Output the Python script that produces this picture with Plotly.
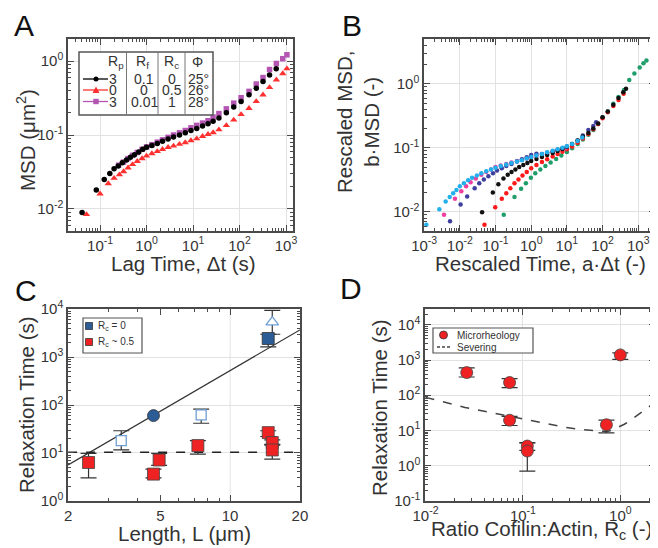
import plotly.graph_objects as go

W, H = 658, 548
OFF = 8  # the page body keeps its default 8px margin
FONT = "Arial, Liberation Sans, sans-serif"
TXT = "#333333"
AXC = "#4a4a4a"

# ---------------- panel A : MSD vs lag time ----------------
a_black_t = [0.041, 0.083, 0.123, 0.162, 0.20, 0.246, 0.30, 0.37, 0.45, 0.55, 0.68, 0.83,
             1.0, 1.3, 1.7, 2.2, 2.9, 3.8, 5.1, 6.8, 9, 12, 16, 21, 27, 36, 52, 75, 108,
             160, 229, 320, 442, 615]
a_black_msd = [0.0089, 0.018, 0.025, 0.030, 0.035, 0.038, 0.042, 0.046, 0.050, 0.054, 0.059,
               0.064, 0.068, 0.072, 0.077, 0.082, 0.088, 0.094, 0.100, 0.107, 0.115, 0.122,
               0.132, 0.142, 0.153, 0.170, 0.20, 0.24, 0.285, 0.35, 0.43, 0.53, 0.65, 0.79]
a_red_t = [0.051, 0.10, 0.15, 0.20, 0.26, 0.32, 0.40, 0.5, 0.63, 0.8, 1.0, 1.3, 1.7, 2.2, 2.9,
           3.8, 5.1, 6.8, 9, 12, 16, 21, 27, 36, 52, 75, 108, 160, 229, 320, 442, 620, 850, 1045]
a_red_msd = [0.0084, 0.016, 0.022, 0.026, 0.029, 0.032, 0.036, 0.040, 0.044, 0.048, 0.052,
             0.056, 0.060, 0.064, 0.068, 0.071, 0.075, 0.079, 0.084, 0.089, 0.096, 0.102,
             0.108, 0.118, 0.135, 0.16, 0.19, 0.23, 0.285, 0.35, 0.44, 0.56, 0.68, 0.79]
a_purple_t = [0.25, 0.32, 0.40, 0.5, 0.63, 0.8, 1.0, 1.3, 1.7, 2.2, 2.9, 3.8, 5.1, 6.8, 9, 12,
              16, 21, 27, 36, 52, 75, 108, 160, 229, 320, 442, 620, 850, 1045]
a_purple_msd = [0.039, 0.043, 0.048, 0.053, 0.058, 0.064, 0.069, 0.074, 0.080, 0.086, 0.093,
                0.100, 0.107, 0.115, 0.125, 0.135, 0.145, 0.156, 0.175, 0.195, 0.226, 0.27,
                0.32, 0.39, 0.49, 0.60, 0.77, 0.93, 1.08, 1.22]
a_legend_rows = [["3", "0.1", "0", "25°"], ["0", "0", "0.5", "26°"], ["3", "0.01", "1", "28°"]]

# ---------------- panel B : rescaled MSD ----------------
b_sky_x = [0.00115, 0.00266, 0.004, 0.0052, 0.0065, 0.008, 0.01, 0.013, 0.017, 0.022, 0.03,
           0.04, 0.055, 0.075, 0.1, 0.14, 0.2, 0.28, 0.4, 0.55, 0.75, 1.0, 1.4, 2, 2.8, 4,
           5.5, 7.5, 10, 14, 20, 27]
b_sky_y = [0.0063, 0.011, 0.0145, 0.017, 0.0195, 0.022, 0.025, 0.028, 0.031, 0.034, 0.037,
           0.040, 0.043, 0.046, 0.049, 0.052, 0.055, 0.058, 0.061, 0.064, 0.068, 0.072,
           0.076, 0.080, 0.085, 0.090, 0.095, 0.100, 0.106, 0.115, 0.128, 0.145]
b_pink_x = [0.0036, 0.0073, 0.011, 0.015, 0.02, 0.028, 0.04, 0.055, 0.075, 0.1, 0.14, 0.2,
            0.28, 0.4, 0.55, 0.75, 1.0, 1.4, 2, 2.8, 4, 5.5, 7.5, 9]
b_pink_y = [0.009, 0.016, 0.021, 0.025, 0.029, 0.033, 0.038, 0.042, 0.046, 0.050, 0.053,
            0.056, 0.059, 0.062, 0.065, 0.068, 0.071, 0.075, 0.079, 0.083, 0.088, 0.092,
            0.096, 0.098]
b_navy_x = [0.0053, 0.0105, 0.016, 0.026, 0.035, 0.047, 0.063, 0.085, 0.11, 0.15, 0.2, 0.28,
            0.4, 0.55, 0.75, 1.0, 1.4, 2, 2.8, 4, 5.5, 7.5, 10, 14, 20, 28, 40, 55, 66]
b_navy_y = [0.0071, 0.013, 0.0173, 0.0234, 0.028, 0.032, 0.036, 0.040, 0.044, 0.048, 0.052,
            0.056, 0.061, 0.066, 0.071, 0.077, 0.081, 0.080, 0.084, 0.088, 0.093, 0.098,
            0.105, 0.115, 0.13, 0.155, 0.19, 0.22, 0.25]
b_black_x = [0.042, 0.084, 0.12, 0.167, 0.22, 0.28, 0.36, 0.46, 0.6, 0.78, 1.0, 1.4, 2, 2.8,
             4, 5.5, 7.5, 10, 14, 20, 28, 40, 55, 75, 100, 140, 200, 280, 380, 455]
b_black_y = [0.0098, 0.020, 0.027, 0.033, 0.038, 0.042, 0.046, 0.050, 0.054, 0.058, 0.062,
             0.067, 0.072, 0.077, 0.083, 0.089, 0.096, 0.104, 0.115, 0.13, 0.15, 0.17, 0.20,
             0.24, 0.30, 0.37, 0.47, 0.60, 0.74, 0.835]
b_red_x = [0.049, 0.098, 0.15, 0.2, 0.26, 0.34, 0.44, 0.57, 0.75, 1.0, 1.4, 2, 2.8, 4, 5.5,
           7.5, 10, 14, 20, 28, 40, 55, 75, 100, 140, 200, 280, 390]
b_red_y = [0.0063, 0.0118, 0.016, 0.0195, 0.0234, 0.028, 0.032, 0.037, 0.042, 0.048, 0.054,
           0.060, 0.066, 0.073, 0.080, 0.087, 0.095, 0.105, 0.12, 0.14, 0.165, 0.195, 0.235,
           0.29, 0.36, 0.45, 0.56, 0.70]
b_green_x = [0.17, 0.34, 0.52, 0.71, 0.98, 1.3, 1.8, 2.5, 3.5, 5, 7, 10, 14, 20, 28, 40, 55,
             75, 100, 140, 200, 280, 400, 560, 780, 1100, 1400, 1700]
b_green_y = [0.009, 0.017, 0.023, 0.028, 0.034, 0.040, 0.046, 0.052, 0.059, 0.067, 0.076,
             0.086, 0.098, 0.115, 0.135, 0.16, 0.19, 0.235, 0.30, 0.37, 0.49, 0.62, 0.80,
             1.15, 1.45, 1.8, 2.1, 2.31]

# ---------------- panel C : relaxation time vs length ----------------
c_blue_sq_L, c_blue_sq_tau = [14.6], [2450]
c_blue_sq_up, c_blue_sq_dn = [550], [820]
c_blue_circ_L, c_blue_circ_tau = [4.67], [60]
c_blue_open_L, c_blue_open_tau = [3.39, 7.5], [18, 62]
c_blue_open_up, c_blue_open_dn = [11, 20], [6.4, 20.4]
c_blue_tri_L, c_blue_tri_tau = [15.2], [5400]
c_blue_tri_up, c_blue_tri_dn = [4100], [2400]
c_red_L = [2.45, 4.67, 4.94, 7.26, 14.6, 15.2, 15.2]
c_red_tau = [6.3, 3.6, 7.1, 14.2, 26.5, 16.4, 11.5]
c_red_up = [3.5, 1.0, 2.7, 3.8, 2.5, 2.3, 3.5]
c_red_dn = [3.3, 0.6, 1.6, 4.8, 4.5, 1.9, 4.1]
c_fit_L, c_fit_tau = [2, 20], [5.6, 3700]
c_sev_L, c_sev_tau = [2, 20], [10.3, 10.3]

# ---------------- panel D : relaxation time vs cofilin ratio ----------------
d_R = [0.0265, 0.073, 0.073, 0.111, 0.111, 0.72, 1.0]
d_tau = [440, 230, 19.5, 3.6, 2.6, 14.5, 1400]
d_up = [160, 65, 5.5, 0.9, 1.8, 5, 200]
d_dn = [110, 65, 5.7, 0.9, 1.9, 6, 350]
d_sev_R = [0.01, 0.0255, 0.05, 0.1, 0.18, 0.265, 0.4, 0.58, 0.73, 0.82, 0.93, 1.1, 1.26,
           1.5, 1.73, 2.0, 2.27]
d_sev_tau = [87, 45, 31, 21, 15.5, 12.4, 10.5, 9.5, 9.3, 10.2, 11.9, 15, 19, 27, 36, 48, 63]


def px(x):
    return (x - OFF) / W


def py(y):
    return 1 - (y - OFF) / H


def sup_labels(exps):
    return [f"10<sup>{e}</sup>" for e in exps]


def minor_vals(lo, hi):
    vals = []
    for e in range(lo, hi + 1):
        for m in range(2, 10):
            vals.append(m * 10.0 ** e)
    return vals


def log_axis(dom, anchor, rng, tickvals, ticktext, minors, grid=True):
    return dict(
        type="log", domain=dom, anchor=anchor, range=rng, automargin=False,
        tickmode="array", tickvals=tickvals, ticktext=ticktext,
        ticks="inside", ticklen=6, tickwidth=1.2, tickcolor=AXC,
        showline=True, linecolor=AXC, linewidth=1.5, mirror="allticks",
        showgrid=grid, gridcolor="#e2e2e2", gridwidth=1, zeroline=False,
        minor=dict(tickmode="array", tickvals=minors, ticks="inside", ticklen=3,
                   tickwidth=1, tickcolor=AXC, showgrid=False),
        tickfont=dict(size=15, color=TXT, family=FONT),
    )


def err(up, dn):
    return dict(type="data", symmetric=False, array=up, arrayminus=dn,
                color="#333333", thickness=1.2, width=8)


fig = go.Figure()

# panel A
fig.add_trace(go.Scatter(x=a_purple_t, y=a_purple_msd, mode="markers",
                         marker=dict(symbol="square", size=5.5, color="#b455b4"),
                         xaxis="x", yaxis="y", showlegend=False))
fig.add_trace(go.Scatter(x=a_red_t, y=a_red_msd, mode="markers",
                         marker=dict(symbol="triangle-up", size=6.5, color="#ff3030"),
                         xaxis="x", yaxis="y", showlegend=False))
fig.add_trace(go.Scatter(x=a_black_t, y=a_black_msd, mode="markers",
                         marker=dict(symbol="circle", size=5.5, color="#000000"),
                         xaxis="x", yaxis="y", showlegend=False))

# panel B
for bx, by, col in [(b_green_x, b_green_y, "#1f9e6a"), (b_red_x, b_red_y, "#ff1a1a"),
                    (b_pink_x, b_pink_y, "#ee3fa0"), (b_navy_x, b_navy_y, "#3f3f9f"),
                    (b_black_x, b_black_y, "#111111"), (b_sky_x, b_sky_y, "#22b0ec")]:
    fig.add_trace(go.Scatter(x=bx, y=by, mode="markers",
                             marker=dict(size=4.5, color=col),
                             xaxis="x2", yaxis="y2", showlegend=False))

# panel C
fig.add_trace(go.Scatter(x=c_fit_L, y=c_fit_tau, mode="lines",
                         line=dict(color="#333333", width=1.2),
                         xaxis="x3", yaxis="y3", showlegend=False))
fig.add_trace(go.Scatter(x=c_sev_L, y=c_sev_tau, mode="lines",
                         line=dict(color="#222222", width=1.5, dash="dash"),
                         xaxis="x3", yaxis="y3", showlegend=False))
fig.add_trace(go.Scatter(x=c_blue_tri_L, y=c_blue_tri_tau, mode="markers",
                         error_y=err(c_blue_tri_up, c_blue_tri_dn),
                         marker=dict(symbol="triangle-up", size=11, color="white",
                                     line=dict(color="#6f9fd2", width=1.3)),
                         xaxis="x3", yaxis="y3", showlegend=False))
fig.add_trace(go.Scatter(x=c_blue_open_L, y=c_blue_open_tau, mode="markers",
                         error_y=err(c_blue_open_up, c_blue_open_dn),
                         marker=dict(symbol="square", size=10, color="white",
                                     line=dict(color="#6f9fd2", width=1.3)),
                         xaxis="x3", yaxis="y3", showlegend=False))
fig.add_trace(go.Scatter(x=c_blue_sq_L, y=c_blue_sq_tau, mode="markers",
                         error_y=err(c_blue_sq_up, c_blue_sq_dn),
                         marker=dict(symbol="square", size=12, color="#2b5c96",
                                     line=dict(color="#333333", width=0.8)),
                         xaxis="x3", yaxis="y3", showlegend=False))
fig.add_trace(go.Scatter(x=c_blue_circ_L, y=c_blue_circ_tau, mode="markers",
                         marker=dict(symbol="circle", size=12, color="#2b5c96",
                                     line=dict(color="#333333", width=0.8)),
                         xaxis="x3", yaxis="y3", showlegend=False))
fig.add_trace(go.Scatter(x=c_red_L, y=c_red_tau, mode="markers",
                         error_y=err(c_red_up, c_red_dn),
                         marker=dict(symbol="square", size=12, color="#ee2222",
                                     line=dict(color="#444444", width=0.8)),
                         xaxis="x3", yaxis="y3", showlegend=False))

# panel D
fig.add_trace(go.Scatter(x=d_sev_R, y=d_sev_tau, mode="lines",
                         line=dict(color="#444444", width=1.5, dash="dash"),
                         xaxis="x4", yaxis="y4", showlegend=False))
fig.add_trace(go.Scatter(x=d_R, y=d_tau, mode="markers", error_y=err(d_up, d_dn),
                         marker=dict(symbol="circle", size=12, color="#ee2222",
                                     line=dict(color="#444444", width=0.8)),
                         xaxis="x4", yaxis="y4", showlegend=False))

# axes
dom_a_x, dom_b_x = [px(68), px(293)], [px(424), px(655)]
dom_c_x, dom_d_x = [px(68), px(300)], [px(425), px(655)]
dom_top, dom_bot = [py(231), py(39)], [py(501), py(309)]

fig.update_layout(
    xaxis=log_axis(dom_a_x, "y", [-1.69, 3.15], [10.0 ** e for e in range(-1, 4)],
                   sup_labels(range(-1, 4)), minor_vals(-2, 3)),
    yaxis=log_axis(dom_top, "x", [-2.30, 0.30], [0.01, 0.1, 1], sup_labels([-2, -1, 0]),
                   minor_vals(-3, 0)),
    xaxis2=log_axis(dom_b_x, "y2", [-3.005, 3.47], [10.0 ** e for e in range(-3, 4)],
                    sup_labels(range(-3, 4)), minor_vals(-3, 3)),
    yaxis2=log_axis(dom_top, "x2", [-2.30, 0.70], [0.01, 0.1, 1], sup_labels([-2, -1, 0]),
                    minor_vals(-3, 0)),
    xaxis3=log_axis(dom_c_x, "y3", [0.3005, 1.3015], [2, 5, 10, 20], ["2", "5", "10", "20"],
                    [3, 4, 6, 7, 8, 9], grid=False),
    yaxis3=log_axis(dom_bot, "x3", [-0.005, 4.005], [10.0 ** e for e in range(0, 5)],
                    sup_labels(range(0, 5)), minor_vals(0, 3)),
    xaxis4=log_axis(dom_d_x, "y4", [-2.005, 0.356], [0.01, 0.1, 1], sup_labels([-2, -1, 0]),
                    minor_vals(-2, 0)),
    yaxis4=log_axis(dom_bot, "x4", [-1.005, 4.45], [10.0 ** e for e in range(-1, 5)],
                    sup_labels(range(-1, 5)), minor_vals(-1, 4)),
)

# gridline at L = 10 in panel C (only labelled decade inside the box)
c_lo, c_hi = 0.3005, 1.3015
grid_frac = (1 - c_lo) / (c_hi - c_lo)
shapes = [dict(type="line", xref="x3 domain", yref="y3 domain", x0=grid_frac, x1=grid_frac,
               y0=0, y1=1, line=dict(color="#e2e2e2", width=1), layer="below")]

annotations = []


def text(x, y, s, size, angle=0, xanchor="center", color=TXT):
    annotations.append(dict(x=px(x), y=py(y), xref="paper", yref="paper", text=s,
                            showarrow=False, textangle=angle, xanchor=xanchor,
                            yanchor="middle", font=dict(size=size, color=color, family=FONT)))


# panel letters
text(24, 25, "A", 30, color="#111111")
text(352, 25, "B", 30, color="#111111")
text(26, 290, "C", 30, color="#111111")
text(351, 288, "D", 30, color="#111111")

# axis titles
TS = 20.5
text(183, 263, "Lag Time, Δt (s)", TS)
text(26, 140, "MSD (μm<sup>2</sup>)", TS, angle=-90)
text(540, 263, "Rescaled Time, a·Δt (-)", TS)
text(358, 122, "Rescaled MSD,<br>b·MSD (-)", TS, angle=-90)
text(184, 533, "Length, L (μm)", TS)
text(26, 405, "Relaxation Time (s)", TS, angle=-90)
text(541, 530, "Ratio Cofilin:Actin, R<sub>c</sub> (-)", TS)
text(379, 408, "Relaxation Time (s)", TS, angle=-90)

# legend A (table style)
shapes.append(dict(type="rect", xref="paper", yref="paper", x0=px(79), x1=px(213),
                   y0=py(115), y1=py(52), fillcolor="white",
                   line=dict(color="#555555", width=1.5)))
for xv in [126.5, 158, 185]:
    shapes.append(dict(type="line", xref="paper", yref="paper", x0=px(xv), x1=px(xv),
                       y0=py(115), y1=py(52), line=dict(color="#777777", width=1)))
for xc, h in zip([116, 142, 171, 197], ["R<sub>p</sub>", "R<sub>f</sub>", "R<sub>c</sub>", "Φ"]):
    text(xc, 62, h, 14)
row_y = [79, 90, 101.5]
row_cols = ["#000000", "#ff3030", "#b455b4"]
col_x = [113, 144, 172, 198]
for ry, rc, cells in zip(row_y, row_cols, a_legend_rows):
    shapes.append(dict(type="line", xref="paper", yref="paper", x0=px(83), x1=px(108),
                       y0=py(ry), y1=py(ry), line=dict(color=rc, width=1.3)))
    for cx, c in zip(col_x, cells):
        text(cx, ry, c, 14)
shapes.append(dict(type="circle", xref="paper", yref="paper", x0=px(93.5), x1=px(98.5),
                   y0=py(81.5), y1=py(76.5), fillcolor="#000000", line=dict(width=0)))
shapes.append(dict(type="path", xref="paper", yref="paper",
                   path=f"M {px(92.5)} {py(93)} L {px(99.5)} {py(93)} L {px(96)} {py(86.5)} Z",
                   fillcolor="#ff3030", line=dict(width=0)))
shapes.append(dict(type="rect", xref="paper", yref="paper", x0=px(93.3), x1=px(98.7),
                   y0=py(104.2), y1=py(98.8), fillcolor="#b455b4", line=dict(width=0)))

# legend C
shapes.append(dict(type="rect", xref="paper", yref="paper", x0=px(83), x1=px(142),
                   y0=py(353), y1=py(318), fillcolor="white",
                   line=dict(color="#555555", width=1.2)))
for ry, col, lab in [(326, "#2b5c96", "R<sub>c</sub> = 0"), (342, "#ee2222", "R<sub>c</sub> ~ 0.5")]:
    shapes.append(dict(type="rect", xref="paper", yref="paper", x0=px(85.5), x1=px(92.5),
                       y0=py(ry + 3.5), y1=py(ry - 3.5), fillcolor=col,
                       line=dict(color="#333333", width=0.8)))
    text(96, ry, lab, 10, xanchor="left")

# legend D
shapes.append(dict(type="rect", xref="paper", yref="paper", x0=px(433), x1=px(533),
                   y0=py(353), y1=py(328), fillcolor="white",
                   line=dict(color="#555555", width=1.2)))
shapes.append(dict(type="circle", xref="paper", yref="paper", x0=px(439.5), x1=px(447.5),
                   y0=py(339), y1=py(331), fillcolor="#ee2222",
                   line=dict(color="#333333", width=0.8)))
shapes.append(dict(type="line", xref="paper", yref="paper", x0=px(437), x1=px(451),
                   y0=py(347), y1=py(347), line=dict(color="#444444", width=1.5, dash="3px,2px")))
text(455, 335, "Microrheology", 10, xanchor="left")
text(455, 347, "Severing", 10, xanchor="left")

fig.update_layout(
    width=W, height=H,
    margin=dict(l=0, r=0, t=0, b=0),
    paper_bgcolor="white", plot_bgcolor="white",
    font=dict(family=FONT, color=TXT),
    shapes=shapes, annotations=annotations,
    showlegend=False,
)

fig.write_html("out.html")
